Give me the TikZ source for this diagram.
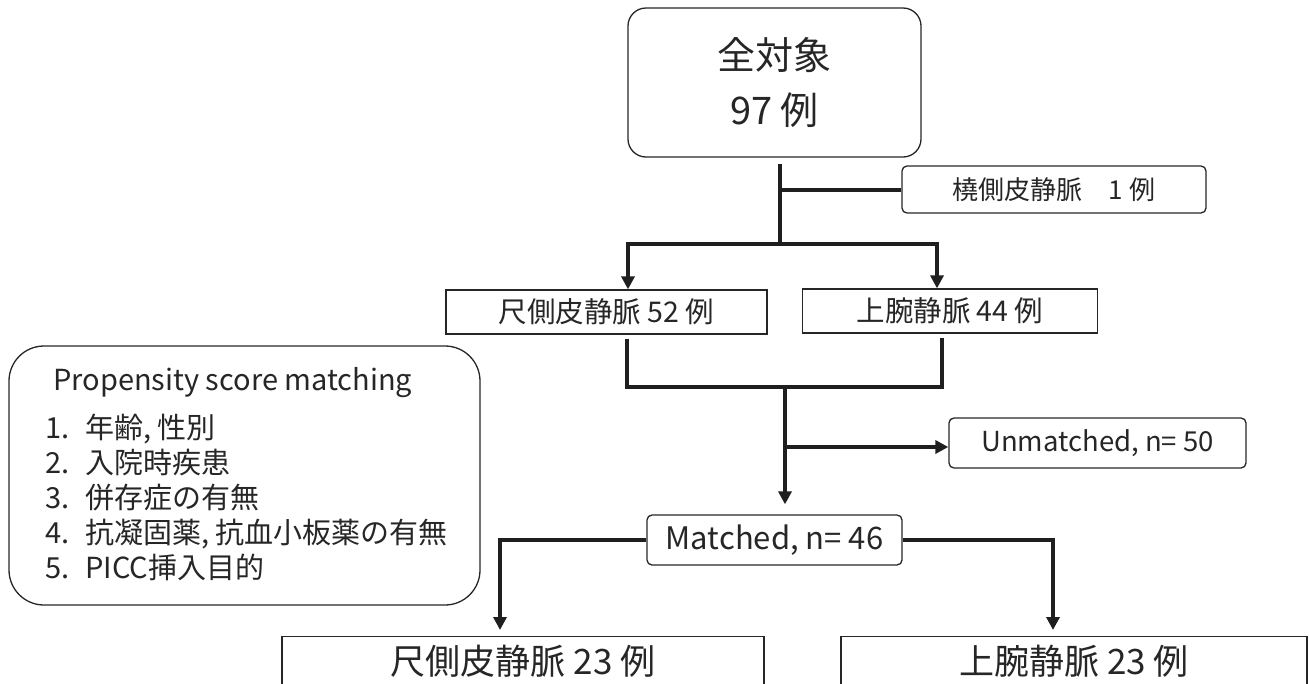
\documentclass[tikz,border=0pt]{standalone}
\usepackage{fontspec}
\setmainfont{Noto Sans CJK JP}
\usetikzlibrary{arrows.meta,calc}
\begin{document}
\begin{tikzpicture}[x=1pt,y=-1pt,
  box/.style={draw=black!85, line width=1.3pt, inner sep=0pt, text=black!85},
  rbox/.style={box, rounded corners=5pt},
  conn/.style={line width=4pt, draw=black!88},
  arr/.style={conn, -{Triangle[length=13pt,width=13pt]}},
  fs/.style={font=\fontsize{#1}{#1}\selectfont},
]
\useasboundingbox (0,0) rectangle (1309,683);
\begin{scope}
\clip (0,0) rectangle (1309,683);
% boxes
\node[box, rounded corners=18pt, minimum width=293pt, minimum height=149pt, align=center,
      font=\fontsize{38}{55}\selectfont] (top) at (774.5,82.5) {全対象\\97 例};
\node[rbox, minimum width=304pt, minimum height=47pt, fs=26] (rad) at (1054,189.5) {橈側皮静脈　1 例};
\node[box, minimum width=321pt, minimum height=44pt, fs=28.5] (ul1) at (606.5,312) {尺側皮静脈 52 例};
\node[box, minimum width=295pt, minimum height=44pt, fs=28.5] (br1) at (950,311) {上腕静脈 44 例};
\node[rbox, minimum width=297pt, minimum height=50pt, fs=27.5] (unm) at (1097.5,443) {Unmatched, n= 50};
\node[rbox, minimum width=255pt, minimum height=50pt, fs=31] (mat) at (774.5,540) {Matched, n= 46};
\node[box, anchor=north, minimum width=482pt, text height=38pt, text depth=30pt, fs=35] (ul2) at (523,636) {尺側皮静脈 23 例};
\node[box, anchor=north, minimum width=466pt, text height=38pt, text depth=30pt, fs=35] (br2) at (1074,636) {上腕静脈 23 例};
% propensity box
\node[box, rounded corners=35pt, minimum width=471pt, minimum height=259pt] (psm) at (244.5,475.5) {};
\begin{scope}[every node/.style={anchor=base west, inner sep=0pt, text=black!85, font=\fontsize{29}{33}\selectfont}]
\node (p0) at (53,390) {Propensity score matching};
\node (p1) at (45,438) {\makebox[40pt][l]{1.}年齢, 性別};
\node (p2) at (45,473) {\makebox[40pt][l]{2.}入院時疾患};
\node (p3) at (45,508) {\makebox[40pt][l]{3.}併存症の有無};
\node (p4) at (45,543) {\makebox[40pt][l]{4.}抗凝固薬, 抗血小板薬の有無};
\node (p5) at (45,578) {\makebox[40pt][l]{5.}PICC挿入目的};
\end{scope}
% connectors
\coordinate (t1) at ($(top.south)+(5.5,6)$);
\coordinate (t2) at ($(t1)+(0,80)$);
\draw[conn] (t1) -- (t2);
\draw[conn] (t1 |- rad.west) -- (rad.west);
\draw[arr] (t2) -| ($(ul1.north)+(21.5,0)$);
\draw[arr] (t2) -| ($(br1.north)+(-13,0)$);
\coordinate (m) at (785,387);
\draw[conn] ($(ul1.south)+(20.5,4)$) |- ($(br1.south)+(-8,53)$) -- ($(br1.south)+(-8,4)$);
\draw[arr] (m) -- ($(mat.north)+(10.5,-10)$);
\draw[arr] (m |- 0,447) -- (unm.west |- 0,447);
\draw[arr] (mat.west) -| ($(ul2.north)+(-23,-6)$);
\draw[arr] (mat.east) -| ($(br2.north)+(-21,-6)$);
\end{scope}
\end{tikzpicture}
\end{document}
